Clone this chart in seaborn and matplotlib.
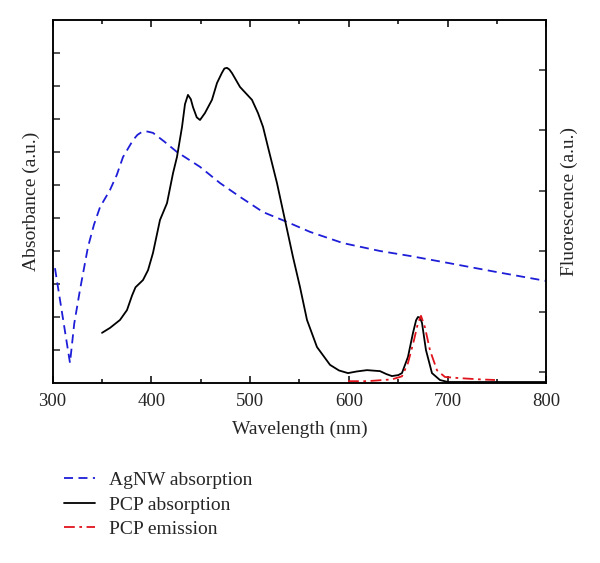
import matplotlib
matplotlib.use('Agg')
import matplotlib.pyplot as plt
import seaborn as sns
from matplotlib.ticker import MultipleLocator

sns.set_theme(style='ticks')
plt.rcParams['font.family'] = ['Liberation Serif', 'DejaVu Serif']
plt.rcParams['axes.edgecolor'] = 'black'
plt.rcParams['axes.linewidth'] = 1.1

# AgNW absorption (left axis, a.u.)
agnw_wl = [302.5, 317.7, 322.0, 327.8, 335.9, 342.0, 348.1, 358.2, 365.0, 371.4,
           381.5, 386.0, 390.6, 396.0, 401.7, 413.0, 426.0, 449.3, 469.5, 489.8,
           513.1, 537.4, 560.6, 594.0, 631.5, 661.8, 700.0, 750.0, 800.0]
agnw_abs = [3.48, 0.61, 1.80, 2.82, 4.12, 4.80, 5.33, 5.85, 6.30, 6.85,
            7.36, 7.52, 7.61, 7.62, 7.58, 7.32, 7.00, 6.55, 6.06, 5.64,
            5.18, 4.88, 4.58, 4.24, 4.00, 3.85, 3.64, 3.36, 3.09]

# PCP absorption (left axis, a.u.)
pcp_wl = [350.1, 358.2, 368.3, 375.4, 380.5, 384.0, 391.6, 396.7, 401.7, 408.8,
          415.9, 422.0, 426.0, 431.1, 434.1, 437.1, 440.0, 442.2, 446.0, 449.3,
          454.3, 461.4, 466.5, 471.5, 474.0, 476.6, 479.0, 481.7, 489.8, 501.9,
          508.0, 513.1, 518.1, 527.2, 535.3, 543.4, 550.5, 557.6, 567.7, 580.9,
          590.0, 599.1, 608.0, 618.3, 631.5, 638.0, 643.6, 650.0, 653.7, 659.8,
          664.9, 668.0, 669.9, 672.0, 674.0, 678.0, 684.1, 692.2, 700.3, 799.5]
pcp_abs = [1.52, 1.67, 1.91, 2.21, 2.65, 2.90, 3.12, 3.42, 3.94, 4.94,
           5.45, 6.36, 6.85, 7.76, 8.45, 8.73, 8.60, 8.36, 8.05, 7.97,
           8.18, 8.58, 9.09, 9.40, 9.53, 9.55, 9.50, 9.39, 8.97, 8.58,
           8.18, 7.76, 7.15, 6.06, 4.94, 3.82, 2.91, 1.91, 1.09, 0.55,
           0.38, 0.30, 0.35, 0.39, 0.36, 0.27, 0.21, 0.24, 0.30, 0.79,
           1.52, 1.90, 2.00, 1.98, 1.82, 1.00, 0.30, 0.09, 0.03, 0.03]

# PCP emission (right axis, a.u.)
em_wl = [599.1, 618.3, 643.6, 653.7, 659.8, 665.9, 669.9, 673.0, 677.0, 682.1,
         689.2, 697.2, 712.4, 732.7, 747.9]
em_fl = [-0.15, -0.15, -0.12, -0.07, 0.15, 0.53, 0.81, 0.93, 0.74, 0.36,
         0.03, -0.08, -0.10, -0.12, -0.13]

fig = plt.figure(figsize=(6, 5.63), dpi=100)
ax = fig.add_axes([0.0875, 0.3197, 0.8233, 0.6448])
ax2 = ax.twinx()

sns.lineplot(x=agnw_wl, y=agnw_abs, ax=ax, color='#1e1ed8', lw=1.3,
             linestyle=(0, (5, 3)), estimator=None, label='AgNW absorption', legend=False)
sns.lineplot(x=pcp_wl, y=pcp_abs, ax=ax, color='black', lw=1.3,
             estimator=None, label='PCP absorption', legend=False)
sns.lineplot(x=em_wl, y=em_fl, ax=ax2, color='#e0141c', lw=1.3,
             linestyle=(0, (6, 2.5, 1.5, 2.5)), estimator=None, label='PCP emission', legend=False)

ax.set_xlim(300, 800)
ax.set_ylim(0, 11)
ax2.set_ylim(-0.18, 5.82)
ax.xaxis.set_major_locator(MultipleLocator(100))
ax.xaxis.set_minor_locator(MultipleLocator(50))
ax.set_yticks(range(1, 11))
ax2.set_yticks(range(0, 6))

ax.tick_params(axis='x', which='both', direction='in', top=True, bottom=True,
               labelsize=13.5, pad=7, width=1.1, color='black')
ax.tick_params(axis='x', which='major', length=5)
ax.tick_params(axis='x', which='minor', length=3)
ax.tick_params(axis='y', direction='in', left=True, right=False, labelleft=False,
               length=5, width=1.1)
ax2.tick_params(axis='y', direction='in', left=False, right=True, labelright=False,
                length=5, width=1.1)

ax.set_xlabel('Wavelength (nm)', fontsize=14, labelpad=8)
ax.set_ylabel('Absorbance (a.u.)', fontsize=14, labelpad=9)
ax2.set_ylabel('Fluorescence (a.u.)', fontsize=14, labelpad=10)

handles = ax.get_lines() + ax2.get_lines()
fig.legend(handles=handles, labels=[h.get_label() for h in handles],
           loc='upper left', bbox_to_anchor=(0.09, 0.18), frameon=False,
           fontsize=14, borderpad=0, handlelength=1.6, handletextpad=0.75,
           labelspacing=0.36)

fig.savefig('out.png', dpi=100)
